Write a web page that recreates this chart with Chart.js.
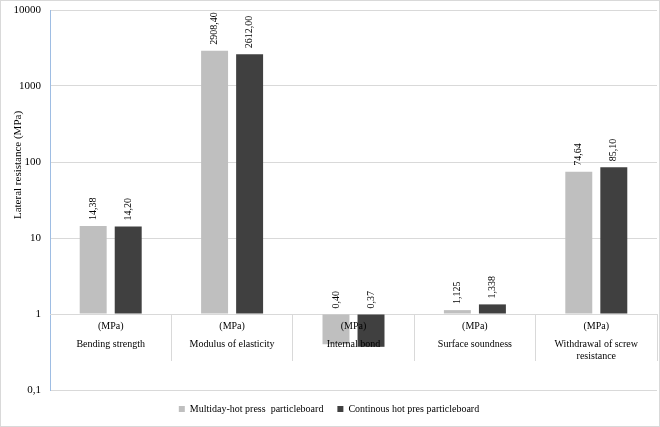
<!DOCTYPE html>
<html>
<head>
<meta charset="utf-8">
<script src="https://cdn.jsdelivr.net/npm/chart.js@4"></script>
<style>
  body { margin: 0; background: #fff; }
  #wrap { width: 660px; height: 427px; box-sizing: border-box; border: 1px solid #D9D9D9; }
</style>
</head>
<body>
<div id="wrap"><canvas id="chart" width="658" height="425"></canvas></div>
<script>
// Chart data
const categories = [
  ["Bending strength"],
  ["Modulus of elasticity"],
  ["Internal bond"],
  ["Surface soundness"],
  ["Withdrawal of screw", "resistance"]
];
const units = ["(MPa)", "(MPa)", "(MPa)", "(MPa)", "(MPa)"];
const multidayValues = [14.38, 2908.40, 0.40, 1.125, 74.64];
const continousValues = [14.20, 2612.00, 0.37, 1.338, 85.10];
const labelDecimals = [2, 2, 2, 3, 2];
const seriesNames = ["Multiday-hot press  particleboard", "Continous hot pres particleboard"];
const yTitle = 'Lateral resistance (MPa)';

const serif = "'Liberation Serif', 'Times New Roman', serif";

// Value labels drawn vertically above each bar
const barLabels = {
  id: 'barLabels',
  afterDatasetsDraw(chart) {
    const ctx = chart.ctx;
    ctx.save();
    ctx.font = "10px " + serif;
    ctx.fillStyle = '#000';
    ctx.textAlign = 'left';
    ctx.textBaseline = 'middle';
    chart.data.datasets.forEach((ds, i) => {
      chart.getDatasetMeta(i).data.forEach((bar, j) => {
        const text = ds.data[j].toFixed(labelDecimals[j]).replace('.', ',');
        const top = Math.min(bar.y, bar.base);
        ctx.save();
        ctx.translate(bar.x, top - 6);
        ctx.rotate(-Math.PI / 2);
        ctx.fillText(text, 0, 0);
        ctx.restore();
      });
    });
    ctx.restore();
  }
};

// Y axis title sits a bit above the middle of the plot, like the original
const axisTitle = {
  id: 'axisTitle',
  afterDraw(chart) {
    const ctx = chart.ctx;
    ctx.save();
    ctx.font = "11px " + serif;
    ctx.fillStyle = '#000';
    ctx.textAlign = 'center';
    ctx.textBaseline = 'middle';
    ctx.translate(17, 164);
    ctx.rotate(-Math.PI / 2);
    ctx.fillText(yTitle, 0, 0);
    ctx.restore();
  }
};

new Chart(document.getElementById('chart'), {
  type: 'bar',
  data: {
    labels: categories,
    datasets: [{
      label: seriesNames[0],
      data: multidayValues,
      base: 1,
      backgroundColor: '#BFBFBF',
      categoryPercentage: 0.577,
      barPercentage: 0.77
    }, {
      label: seriesNames[1],
      data: continousValues,
      base: 1,
      backgroundColor: '#404040',
      categoryPercentage: 0.577,
      barPercentage: 0.77
    }]
  },
  options: {
    responsive: false,
    animation: false,
    layout: { padding: { top: 9, right: 2, left: 0, bottom: 2 } },
    scales: {
      y: {
        type: 'logarithmic',
        min: 0.1,
        max: 10000,
        afterFit: (scale) => { scale.width = 49; },
        // invisible tick marks keep the labels off the axis line
        grid: { color: '#D9D9D9', drawTicks: true, tickLength: 9, tickColor: 'rgba(0,0,0,0)' },
        border: { color: '#9EBDE3' },
        ticks: {
          padding: 0,
          color: '#000',
          font: { family: serif, size: 11 },
          callback: (v) => {
            const l = Math.log10(v);
            if (Math.abs(l - Math.round(l)) > 1e-9) return null;
            return String(v).replace('.', ',');
          }
        }
      },
      x: {
        type: 'category',
        position: { y: 1 },
        grid: { drawOnChartArea: false, offset: true, tickLength: 46, color: '#D9D9D9' },
        border: { color: '#D9D9D9' },
        ticks: {
          z: 1,
          padding: -22,
          maxRotation: 0,
          color: '#000',
          font: { family: serif, size: 10, lineHeight: 1.2 }
        }
      },
      x2: {
        type: 'category',
        labels: units,
        position: { y: 1 },
        grid: { display: false, drawTicks: false },
        border: { display: false },
        ticks: {
          z: 1,
          padding: 6,
          maxRotation: 0,
          color: '#000',
          font: { family: serif, size: 10 }
        }
      }
    },
    plugins: {
      legend: {
        position: 'bottom',
        labels: {
          boxWidth: 6,
          boxHeight: 6,
          padding: 14,
          color: '#000',
          font: { family: serif, size: 10 }
        }
      },
      tooltip: { enabled: false }
    }
  },
  plugins: [barLabels, axisTitle]
});
</script>
</body>
</html>
